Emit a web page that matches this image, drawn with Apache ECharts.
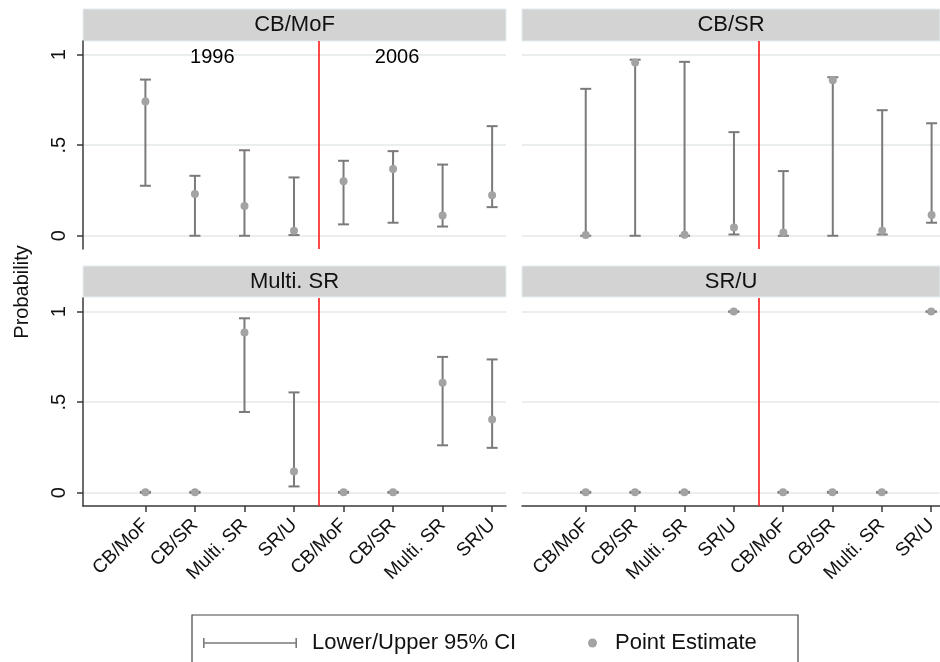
<!DOCTYPE html>
<html><head><meta charset="utf-8">
<script src="https://cdn.jsdelivr.net/npm/echarts@6/dist/echarts.min.js"></script>
<style>html,body{margin:0;padding:0;background:#fff}#c{width:940px;height:662px}</style>
</head><body><div id="c"></div>
<script>
// ---- data ----
const categories = ['CB/MoF', 'CB/SR', 'Multi. SR', 'SR/U', 'CB/MoF', 'CB/SR', 'Multi. SR', 'SR/U'];
const panelTitles = ['CB/MoF', 'CB/SR', 'Multi. SR', 'SR/U'];
const yTickValues = [0, 0.5, 1];
const yTickLabels = ['0', '.5', '1'];
const yearLabels = ['1996', '2006'];
const yearLabelX = [2.35, 6.08];
const yearLabelY = [0.985, 0.985];
const periodDivider = 4.5;

const pointCBMoF = [0.741, 0.230, 0.165, 0.028, 0.301, 0.369, 0.112, 0.224];
const lowerCBMoF = [0.276, 0.000, 0.000, 0.004, 0.063, 0.072, 0.051, 0.158];
const upperCBMoF = [0.862, 0.331, 0.472, 0.322, 0.414, 0.467, 0.393, 0.605];

const pointCBSR = [0.004, 0.956, 0.005, 0.046, 0.018, 0.858, 0.028, 0.114];
const lowerCBSR = [0.000, 0.000, 0.000, 0.007, 0.000, 0.000, 0.007, 0.072];
const upperCBSR = [0.811, 0.972, 0.960, 0.572, 0.357, 0.875, 0.693, 0.621];

const pointMultiSR = [0.003, 0.003, 0.884, 0.117, 0.003, 0.003, 0.607, 0.404];
const lowerMultiSR = [0.000, 0.000, 0.446, 0.035, 0.000, 0.000, 0.262, 0.248];
const upperMultiSR = [0.005, 0.005, 0.963, 0.554, 0.005, 0.005, 0.750, 0.736];

const pointSRU = [0.003, 0.003, 0.003, 1.000, 0.003, 0.003, 0.003, 1.000];
const lowerSRU = [0.000, 0.000, 0.000, 1.000, 0.000, 0.000, 0.000, 1.000];
const upperSRU = [0.005, 0.005, 0.005, 1.000, 0.005, 0.005, 0.005, 1.000];

const panelPoints = [pointCBMoF, pointCBSR, pointMultiSR, pointSRU];
const panelLower = [lowerCBMoF, lowerCBSR, lowerMultiSR, lowerSRU];
const panelUpper = [upperCBMoF, upperCBSR, upperMultiSR, upperSRU];

// ---- layout / style ----
const FONT = "'Liberation Sans', Arial, Helvetica, sans-serif";
const BAR = '#7a7a7a';
const DOT = '#a3a3a3';
const AXIS = '#3a3a3a';
const GRIDC = '#e4e8ea';
const grids = [
  {left: 83, top: 41, width: 423, height: 208},
  {left: 522, top: 41, width: 418, height: 208},
  {left: 83, top: 298, width: 423, height: 208},
  {left: 522, top: 298, width: 418, height: 208}
];
const headers = [
  {x: 83, y: 9, w: 423, h: 32},
  {x: 522, y: 9, w: 418, h: 32},
  {x: 83, y: 266, w: 423, h: 31},
  {x: 522, y: 266, w: 418, h: 31}
];
const xRange = [[-0.26, 8.28], [-0.29, 8.17], [-0.26, 8.28], [-0.29, 8.17]];
const yRange = [-0.073, 1.075];
const catIdx = categories.map((c, i) => i + 1);

const xAxes = grids.map((g, i) => {
  const bottom = i >= 2;
  return {
    type: 'value', gridIndex: i, min: xRange[i][0], max: xRange[i][1],
    axisLine: {show: bottom, onZero: false, lineStyle: {color: AXIS, width: 1.5}},
    axisTick: {show: bottom, customValues: catIdx, length: 6, lineStyle: {color: AXIS, width: 1.5}},
    axisLabel: {show: bottom, customValues: catIdx, rotate: 45, margin: 16, fontSize: 19,
      fontFamily: FONT, color: '#111', formatter: v => categories[Math.round(v) - 1] || ''},
    splitLine: {show: false}
  };
});
const yAxes = grids.map((g, i) => {
  const left = i % 2 === 0;
  return {
    type: 'value', gridIndex: i, min: yRange[0], max: yRange[1],
    axisLine: {show: left, onZero: false, lineStyle: {color: AXIS, width: 1.5}},
    axisTick: {show: left, customValues: yTickValues, length: 6, lineStyle: {color: AXIS, width: 1.5}},
    axisLabel: {show: left, customValues: yTickValues, rotate: 90, margin: 14, fontSize: 20,
      fontFamily: FONT, color: '#111',
      formatter: v => { const k = yTickValues.indexOf(Math.round(v * 100) / 100); return k >= 0 ? yTickLabels[k] : ''; }},
    splitLine: {show: true, lineStyle: {color: GRIDC, width: 1.5}}
  };
});

const series = [];
for (let i = 0; i < 4; i++) {
  series.push({
    type: 'custom', name: 'Lower/Upper 95% CI', xAxisIndex: i, yAxisIndex: i, z: 2, silent: true,
    itemStyle: {color: BAR},
    data: panelLower[i].map((lo, k) => [k + 1, lo, panelUpper[i][k]]),
    encode: {x: 0, y: [1, 2]},
    renderItem: (params, api) => {
      const x = api.value(0);
      const lo = api.coord([x, api.value(1)]);
      const hi = api.coord([x, api.value(2)]);
      const hw = 5.5;
      const st = {stroke: BAR, lineWidth: 2};
      return {type: 'group', children: [
        {type: 'line', shape: {x1: lo[0], y1: lo[1], x2: hi[0], y2: hi[1]}, style: st},
        {type: 'line', shape: {x1: lo[0] - hw, y1: lo[1], x2: lo[0] + hw, y2: lo[1]}, style: st},
        {type: 'line', shape: {x1: hi[0] - hw, y1: hi[1], x2: hi[0] + hw, y2: hi[1]}, style: st}
      ]};
    }
  });
  series.push({
    type: 'scatter', name: 'Point Estimate', xAxisIndex: i, yAxisIndex: i, z: 3, silent: true,
    symbol: 'circle', symbolSize: 8, itemStyle: {color: DOT, opacity: 1},
    data: panelPoints[i].map((p, k) => [k + 1, p]),
    markLine: {silent: true, symbol: ['none', 'none'], label: {show: false},
      lineStyle: {color: '#ff1a1a', width: 1.6, type: 'solid'},
      emphasis: {disabled: true},
      data: [{xAxis: periodDivider}]}
  });
}
series.push({
  type: 'scatter', name: 'years', xAxisIndex: 0, yAxisIndex: 0, silent: true, symbolSize: 1, z: 4,
  itemStyle: {opacity: 0},
  data: yearLabels.map((t, k) => ({name: t, value: [yearLabelX[k], yearLabelY[k]]})),
  label: {show: true, position: 'inside', formatter: '{b}', fontSize: 20, fontFamily: FONT,
    color: '#000', opacity: 1}
});

const graphic = [];
headers.forEach((h, i) => {
  graphic.push({type: 'rect', shape: {x: h.x, y: h.y, width: h.w, height: h.h}, silent: true,
    style: {fill: '#d3d3d3', stroke: '#e3eef1', lineWidth: 1}, z: 0});
  graphic.push({type: 'text', x: h.x + h.w / 2, y: h.y + h.h / 2, silent: true, z: 1,
    style: {text: panelTitles[i], font: '22px ' + FONT, fill: '#111', align: 'center', verticalAlign: 'middle'}});
});
graphic.push({type: 'text', x: 22, y: 292, rotation: Math.PI / 2, silent: true,
  style: {text: 'Probability', font: '20px ' + FONT, fill: '#111', align: 'center', verticalAlign: 'middle'}});
graphic.push({type: 'rect', shape: {x: 192, y: 615, width: 606, height: 54}, silent: true,
  style: {fill: 'none', stroke: '#444', lineWidth: 1.2}});

const ciIcon = 'path://M0,0H1.6V4.2H92.4V0H94V10H92.4V5.8H1.6V10H0Z';

const option = {
  animation: false,
  backgroundColor: '#fff',
  grid: grids,
  xAxis: xAxes,
  yAxis: yAxes,
  legend: [
    {left: 203, top: 632, itemWidth: 94, itemHeight: 10, selectedMode: false, padding: 0,
      data: [{name: 'Lower/Upper 95% CI', icon: ciIcon, itemStyle: {color: BAR}}],
      textStyle: {fontSize: 22, fontFamily: FONT, color: '#111', padding: [0, 0, 0, 10]}},
    {left: 588, top: 632, itemWidth: 9, itemHeight: 9, selectedMode: false, padding: 0,
      data: [{name: 'Point Estimate', icon: 'circle', itemStyle: {color: DOT}}],
      textStyle: {fontSize: 22, fontFamily: FONT, color: '#111', padding: [0, 0, 0, 13]}}
  ],
  graphic: graphic,
  series: series
};
const chart = echarts.init(document.getElementById('c'), null, {renderer: 'canvas'});
chart.setOption(option);
</script>
</body></html>
